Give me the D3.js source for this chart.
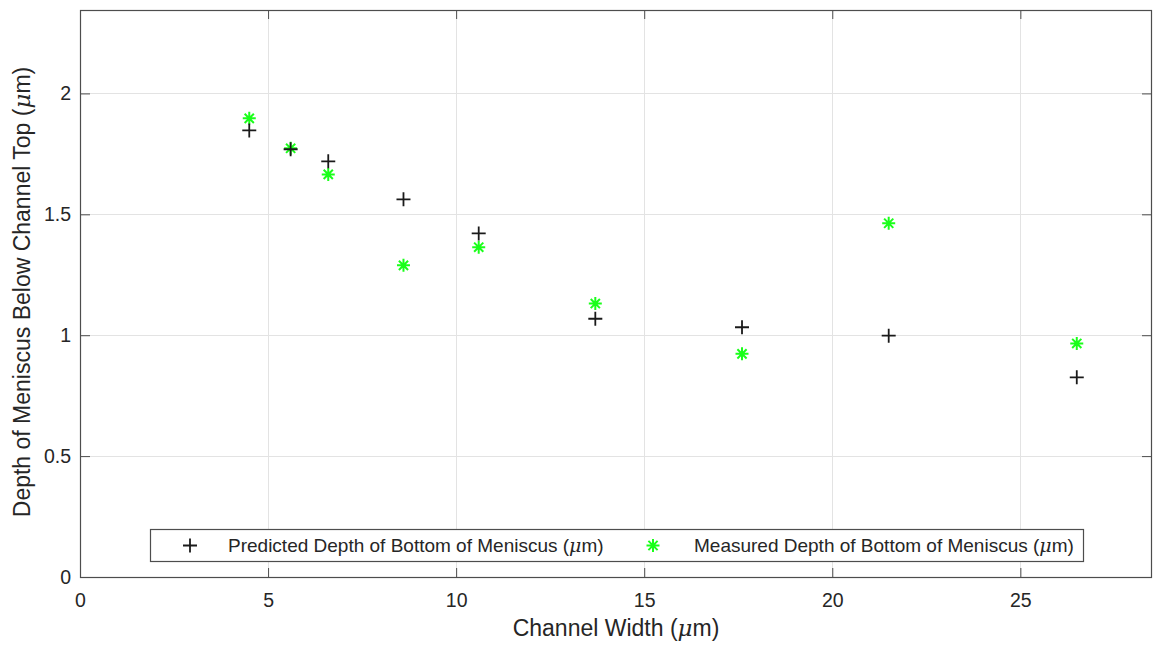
<!DOCTYPE html>
<html>
<head>
<meta charset="utf-8">
<script src="https://cdn.jsdelivr.net/npm/d3@7"></script>
<style>
  body { margin: 0; background: #fff; }
  svg text { font-family: "Liberation Sans", Arial, Helvetica, sans-serif; fill: #262626; }
</style>
</head>
<body>
<div id="chart"></div>
<script>
const channelWidth = [4.5, 5.6, 6.6, 8.6, 10.6, 13.7, 17.6, 21.5, 26.5];
const predictedDepth = [1.847, 1.769, 1.719, 1.562, 1.421, 1.068, 1.033, 0.998, 0.826];
const measuredDepth = [1.897, 1.773, 1.665, 1.289, 1.364, 1.131, 0.923, 1.463, 0.966];
const xTicks = [0, 5, 10, 15, 20, 25];
const yTicks = [0, 0.5, 1, 1.5, 2];

const width = 1154, height = 646;
const margin = { top: 10, right: 2, bottom: 69, left: 80 };

const svg = d3.select('#chart').append('svg')
  .attr('width', width)
  .attr('height', height);

const x = d3.scaleLinear().domain([0, 28.5]).range([margin.left, width - margin.right]);
const y = d3.scaleLinear().domain([0, 2.345]).range([height - margin.bottom, margin.top]);

const [x0, x1] = x.range();
const [y0, y1] = y.range();

// grid
const grid = svg.append('g').attr('stroke', '#e3e3e3').attr('stroke-width', 1);
grid.selectAll('.gx').data(xTicks.filter((d) => d > 0)).join('line')
  .attr('x1', (d) => Math.round(x(d)) + 0.5).attr('x2', (d) => Math.round(x(d)) + 0.5)
  .attr('y1', y1).attr('y2', y0);
grid.selectAll('.gy').data(yTicks.filter((d) => d > 0)).join('line')
  .attr('y1', (d) => Math.round(y(d)) + 0.5).attr('y2', (d) => Math.round(y(d)) + 0.5)
  .attr('x1', x0).attr('x2', x1);

// axes, ticks pointing in, box on
const axisColor = '#4d4d4d';
const styleAxis = (g) => {
  g.select('.domain').remove();
  g.selectAll('.tick line').attr('stroke', axisColor);
  g.selectAll('.tick text').attr('font-size', 19.5).attr('fill', '#262626');
};

svg.append('g')
  .attr('transform', `translate(0,${y0})`)
  .call(d3.axisBottom(x).tickValues(xTicks).tickSize(-9).tickPadding(16).tickFormat(d3.format('d')))
  .call(styleAxis);
svg.append('g')
  .attr('transform', `translate(0,${y1})`)
  .call(d3.axisTop(x).tickValues(xTicks).tickSize(-9).tickFormat(''))
  .call(styleAxis);
svg.append('g')
  .attr('transform', `translate(${x0},0)`)
  .call(d3.axisLeft(y).tickValues(yTicks).tickSize(-10).tickPadding(9).tickFormat((d) => String(d)))
  .call(styleAxis);
svg.append('g')
  .attr('transform', `translate(${x1},0)`)
  .call(d3.axisRight(y).tickValues(yTicks).tickSize(-10).tickFormat(''))
  .call(styleAxis);

svg.append('rect')
  .attr('x', x0 + 0.5).attr('y', y1 + 0.5)
  .attr('width', x1 - x0 - 1).attr('height', y0 - y1)
  .attr('fill', 'none').attr('stroke', axisColor).attr('stroke-width', 1.2);

// axis labels
const mu = (t) => {
  t.append('tspan').text('(');
  t.append('tspan').attr('font-style', 'italic').attr('font-family', '"DejaVu Serif", serif').text('\u03BC');
  t.append('tspan').text('m)');
};

const xl = svg.append('text')
  .attr('x', 616).attr('y', 636)
  .attr('text-anchor', 'middle').attr('font-size', 23);
xl.append('tspan').text('Channel Width ');
mu(xl);

const yl = svg.append('text')
  .attr('transform', 'translate(30,292) rotate(-90)')
  .attr('text-anchor', 'middle').attr('font-size', 23);
yl.append('tspan').text('Depth of Meniscus Below Channel Top ');
mu(yl);

// markers
const plusPath = (s) => `M${-s},0H${s}M0,${-s}V${s}`;
const starPath = (s) => {
  const d = s * Math.SQRT1_2;
  return `M${-s},0H${s}M0,${-s}V${s}M${-d},${-d}L${d},${d}M${-d},${d}L${d},${-d}`;
};
const green = '#1aff1a';

const predicted = channelWidth.map((w, i) => ({ x: w, y: predictedDepth[i] }));
const measured = channelWidth.map((w, i) => ({ x: w, y: measuredDepth[i] }));

svg.append('g').selectAll('path').data(measured).join('path')
  .attr('transform', (d) => `translate(${x(d.x)},${y(d.y)})`)
  .attr('d', starPath(6.5))
  .attr('stroke', green).attr('stroke-width', 2).attr('fill', 'none');

svg.append('g').selectAll('path').data(predicted).join('path')
  .attr('transform', (d) => `translate(${x(d.x)},${y(d.y)})`)
  .attr('d', plusPath(7))
  .attr('stroke', '#1a1a1a').attr('stroke-width', 1.8).attr('fill', 'none');

// legend
const legend = svg.append('g');
legend.append('rect')
  .attr('x', 150.5).attr('y', 529.5).attr('width', 933).attr('height', 32)
  .attr('fill', '#fff').attr('stroke', axisColor).attr('stroke-width', 1.2);

legend.append('path')
  .attr('transform', 'translate(190,545.5)')
  .attr('d', plusPath(7))
  .attr('stroke', '#1a1a1a').attr('stroke-width', 1.8).attr('fill', 'none');
const lt1 = legend.append('text').attr('x', 228).attr('y', 552).attr('font-size', 19);
lt1.append('tspan').text('Predicted Depth of Bottom of Meniscus ');
mu(lt1);

legend.append('path')
  .attr('transform', 'translate(653,545.5)')
  .attr('d', starPath(6.5))
  .attr('stroke', green).attr('stroke-width', 2).attr('fill', 'none');
const lt2 = legend.append('text').attr('x', 694).attr('y', 552).attr('font-size', 19);
lt2.append('tspan').text('Measured Depth of Bottom of Meniscus ');
mu(lt2);
</script>
</body>
</html>
